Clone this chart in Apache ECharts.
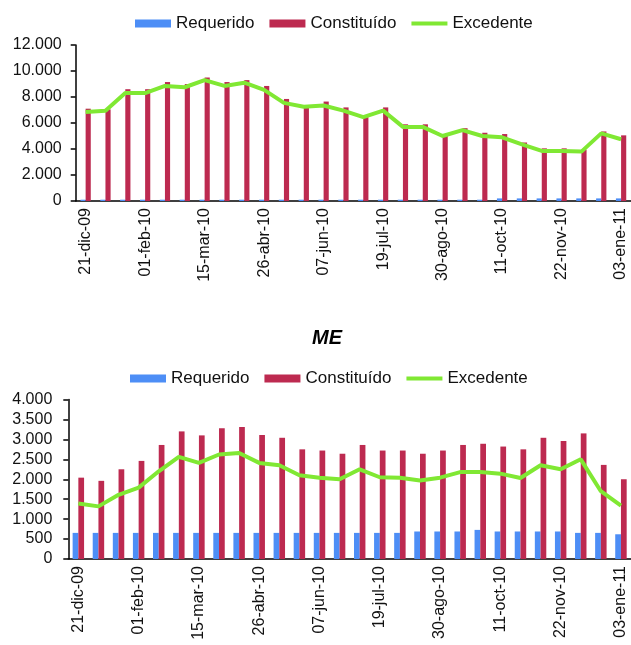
<!DOCTYPE html>
<html>
<head>
<meta charset="utf-8">
<script src="https://cdn.jsdelivr.net/npm/echarts@6/dist/echarts.min.js"></script>
<style>
html,body{margin:0;padding:0;background:#fff;}
#c{width:631px;height:645px;}
</style>
</head>
<body>
<div id="c"></div>
<script>
var fechas = ['21-dic-09','04-ene-10','18-ene-10','01-feb-10','15-feb-10','01-mar-10','15-mar-10','29-mar-10','12-abr-10','26-abr-10','10-may-10','24-may-10','07-jun-10','21-jun-10','05-jul-10','19-jul-10','02-ago-10','16-ago-10','30-ago-10','13-sep-10','27-sep-10','11-oct-10','25-oct-10','08-nov-10','22-nov-10','06-dic-10','20-dic-10','03-ene-11'];

var mnRequerido = [100,100,100,100,100,100,100,100,100,100,100,100,100,100,100,100,100,100,100,100,100,200,200,200,200,200,200,200];
var mnConstituido = [7100,7050,8600,8600,9150,9000,9500,9150,9300,8850,7850,7300,7650,7200,6450,7200,5900,5900,5050,5600,5250,5150,4500,4050,4050,3950,5350,5050];
var mnExcedente = [6850,6950,8300,8300,8850,8750,9300,8850,9100,8550,7550,7250,7350,6950,6450,6950,5700,5700,5000,5450,5000,4900,4350,3850,3850,3800,5200,4750];

var meRequerido = [655,655,655,655,655,655,655,655,655,655,655,655,655,655,655,655,655,690,690,690,730,690,690,690,690,655,655,620];
var meConstituido = [2040,1960,2250,2460,2860,3200,3100,3280,3310,3110,3040,2750,2720,2640,2860,2720,2720,2640,2720,2860,2890,2820,2750,3040,2960,3150,2360,2000];
var meExcedente = [1390,1320,1610,1790,2200,2560,2410,2620,2660,2410,2350,2100,2040,2000,2250,2050,2040,1970,2040,2180,2180,2140,2030,2350,2250,2500,1700,1340];

var titulo2 = 'ME';
var nombres = ['Requerido','Constituído','Excedente'];

var cBlue = '#4D8EF6', cRed = '#BD2A50', cGreen = '#80E833';
var font = 'Liberation Sans, Arial, sans-serif';
function fmt(v){ return String(v).replace(/\B(?=(\d{3})+(?!\d))/g, '.'); }

var chart = echarts.init(document.getElementById('c'), null, {renderer:'canvas'});

function xAx(gi){
  return {
    type:'category', gridIndex:gi, data:fechas,
    axisLine:{lineStyle:{color:'#000',width:1.5}},
    axisTick:{length:5,lineStyle:{color:'#000',width:1.5}},
    axisLabel:{interval:2,rotate:90,fontSize:16,color:'#111',fontFamily:font,margin:7}
  };
}
function yAx(gi,max,iv,margin){
  return {
    type:'value', gridIndex:gi, min:0, max:max, interval:iv,
    axisLine:{show:true,lineStyle:{color:'#000',width:1.5}},
    axisTick:{show:true,length:5,lineStyle:{color:'#000',width:1.5}},
    splitLine:{show:false},
    axisLabel:{fontSize:16,color:'#111',fontFamily:font,margin:margin,formatter:fmt}
  };
}
function legend(top,left){
  return {
    top:top, left:left, itemWidth:36, itemHeight:8, itemGap:15,
    textStyle:{fontSize:17,color:'#111',fontFamily:font},
    data:[{name:nombres[0],icon:'rect'},{name:nombres[1],icon:'rect'},{name:nombres[2],icon:'path://M0,0 L36,0 L36,4 L0,4 Z'}]
  };
}

chart.setOption({
  animation:false,
  title:{text:titulo2, left:322, top:323, textAlign:'center',
    textStyle:{fontSize:20,fontWeight:'bold',fontStyle:'italic',color:'#000',fontFamily:font}},
  legend:[legend(10,130), legend(365,125)],
  grid:[
    {left:75.7, top:45, width:560, height:156},
    {left:68.3, top:399.5, width:568, height:159.5}
  ],
  xAxis:[xAx(0), xAx(1)],
  yAxis:[yAx(0,12000,2000,14), yAx(1,4000,500,16)],
  series:[
    {name:nombres[0],type:'bar',xAxisIndex:0,yAxisIndex:0,data:mnRequerido,itemStyle:{color:cBlue},barGap:'0%',barCategoryGap:'48%'},
    {name:nombres[1],type:'bar',xAxisIndex:0,yAxisIndex:0,data:mnConstituido,itemStyle:{color:cRed},barGap:'0%',barCategoryGap:'48%'},
    {name:nombres[2],type:'line',xAxisIndex:0,yAxisIndex:0,data:mnExcedente,symbol:'none',lineStyle:{color:cGreen,width:4},itemStyle:{color:cGreen}},
    {name:nombres[0],type:'bar',xAxisIndex:1,yAxisIndex:1,data:meRequerido,itemStyle:{color:cBlue},barGap:'0%',barCategoryGap:'43%'},
    {name:nombres[1],type:'bar',xAxisIndex:1,yAxisIndex:1,data:meConstituido,itemStyle:{color:cRed},barGap:'0%',barCategoryGap:'43%'},
    {name:nombres[2],type:'line',xAxisIndex:1,yAxisIndex:1,data:meExcedente,symbol:'none',lineStyle:{color:cGreen,width:4},itemStyle:{color:cGreen}}
  ]
});
</script>
</body>
</html>
